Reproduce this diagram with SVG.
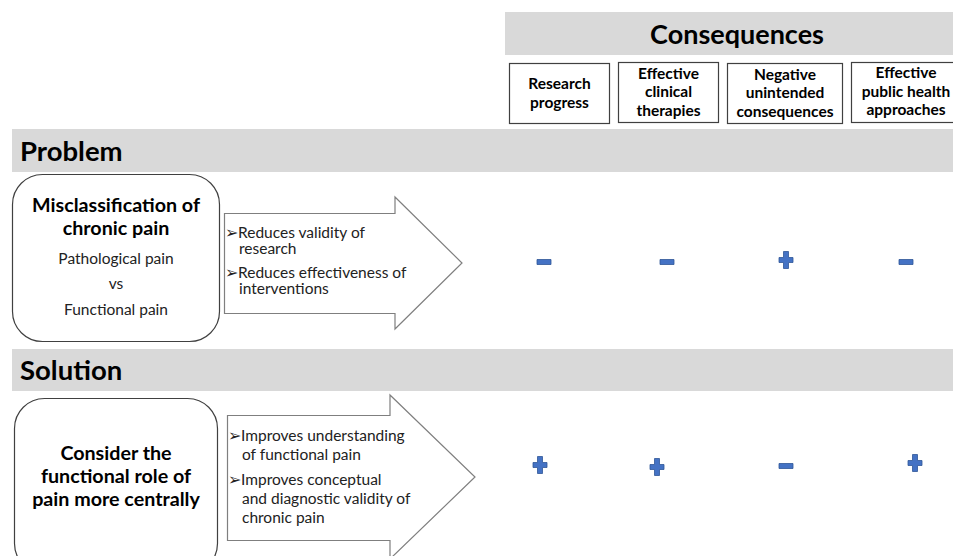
<svg xmlns="http://www.w3.org/2000/svg" width="953" height="556" viewBox="0 0 953 556">
<style>
.band{fill:#d9d9d9}
.hdr{font-family:Lato,"Open Sans",sans-serif;font-weight:bold;fill:#000}
.col{fill:#fff;stroke:#404040;stroke-width:1.2}
.colt{font-family:Lato,"Open Sans",sans-serif;font-weight:bold;font-size:15.5px;fill:#000;text-anchor:middle}
.node{fill:#fff;stroke:#404040;stroke-width:1.2}
.bt{font-family:Lato,"Open Sans",sans-serif;font-weight:bold;font-size:19.7px;fill:#000;text-anchor:middle}
.rt{font-family:Lato,"Open Sans",sans-serif;font-size:15.5px;fill:#222;text-anchor:middle}
.arrow{fill:#fff;stroke:#7f7f7f;stroke-width:1.2}
.at{font-family:Lato,"Open Sans",sans-serif;font-size:15.5px;fill:#222}
.sign{fill:#4472c4;stroke:#2f5597;stroke-width:0.8}
</style>
<defs>
<path id="minus" class="sign" d="M-7,-2.5 H7 V2.5 H-7 Z"/>
<path id="plus" class="sign" d="M-2.5,-8.5 H2.5 V-2.5 H7 V2.5 H2.5 V8.5 H-2.5 V2.5 H-7 V-2.5 H-2.5 Z"/>
</defs>
<rect width="953" height="556" fill="#fff"/>

<g id="consequences-header">
<rect class="band" x="505" y="12" width="448" height="43"/>
<text class="hdr" x="737" y="44" font-size="27" text-anchor="middle">Consequences</text>
</g>
<g id="col-research">
<rect class="col" x="509.5" y="63.5" width="100" height="60"/>
<text class="colt" x="559.5" y="89">Research</text>
<text class="colt" x="559.5" y="108">progress</text>
</g>
<g id="col-clinical">
<rect class="col" x="618.5" y="62.5" width="100" height="60"/>
<text class="colt" x="668.5" y="79">Effective</text>
<text class="colt" x="668.5" y="97">clinical</text>
<text class="colt" x="668.5" y="116">therapies</text>
</g>
<g id="col-negative">
<rect class="col" x="727.5" y="63.5" width="115" height="60"/>
<text class="colt" x="785" y="80">Negative</text>
<text class="colt" x="785" y="98">unintended</text>
<text class="colt" x="785" y="117">consequences</text>
</g>
<g id="col-public">
<rect class="col" x="851.5" y="62.5" width="110" height="60"/>
<text class="colt" x="906" y="78">Effective</text>
<text class="colt" x="906" y="97">public health</text>
<text class="colt" x="906" y="115">approaches</text>
</g>

<g id="problem-header">
<rect class="band" x="12" y="129" width="941" height="43"/>
<text class="hdr" x="20" y="161" font-size="27.5">Problem</text>
</g>
<g id="problem-node">
<rect class="node" x="12.5" y="174.5" width="207" height="167" rx="30"/>
<text class="bt" x="116" y="212">Misclassification of</text>
<text class="bt" x="116" y="235">chronic pain</text>
<text class="rt" x="116" y="264">Pathological pain</text>
<text class="rt" x="116" y="289">vs</text>
<text class="rt" x="116" y="315">Functional pain</text>
</g>

<g id="connectors">
<path class="arrow" d="M224.5,213.5 H395 V197 L462,263 L395,329 V313.5 H224.5 Z"/>
<path class="arrow" d="M227.5,415.5 H390 V395 L475,477 L390,559 V540.5 H227.5 Z"/>
</g>

<g id="problem-arrow-text">
<text class="at" x="225" y="238">➢Reduces validity of</text>
<text class="at" x="239" y="254">research</text>
<text class="at" x="225" y="278">➢Reduces effectiveness  of</text>
<text class="at" x="239" y="294">interventions</text>
</g>

<g id="solution-header">
<rect class="band" x="12" y="349" width="941" height="42"/>
<text class="hdr" x="20" y="380" font-size="27.5">Solution</text>
</g>
<g id="solution-node">
<rect class="node" x="14.5" y="398.5" width="203" height="175" rx="30"/>
<text class="bt" x="116" y="460">Consider the</text>
<text class="bt" x="116" y="483">functional role of</text>
<text class="bt" x="116" y="506">pain more centrally</text>
</g>
<g id="solution-arrow-text">
<text class="at" x="228" y="441">➢Improves understanding</text>
<text class="at" x="242" y="460">of functional pain</text>
<text class="at" x="228" y="485">➢Improves conceptual</text>
<text class="at" x="242" y="504">and diagnostic validity of</text>
<text class="at" x="242" y="523">chronic pain</text>
</g>

<g id="signs-problem">
<use href="#minus" x="544" y="262"/>
<use href="#minus" x="667" y="262"/>
<use href="#plus" x="786" y="260"/>
<use href="#minus" x="906" y="262"/>
</g>
<g id="signs-solution">
<use href="#plus" x="540" y="465"/>
<use href="#plus" x="657" y="467"/>
<use href="#minus" x="786" y="466"/>
<use href="#plus" x="915" y="463"/>
</g>
</svg>
